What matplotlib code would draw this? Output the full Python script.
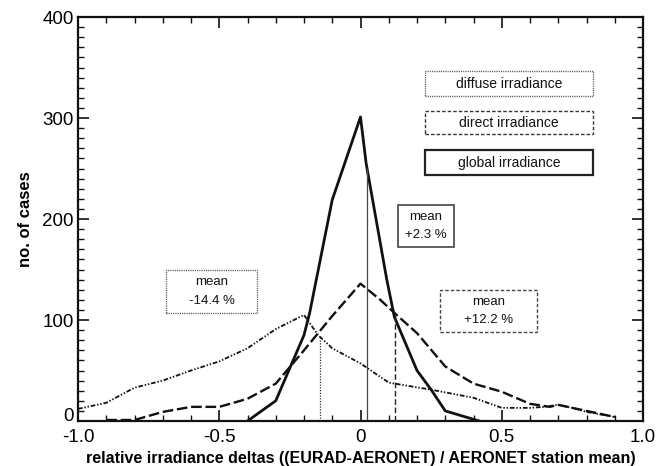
import numpy as np
import matplotlib
matplotlib.use("Agg")
import matplotlib.pyplot as plt
from matplotlib.patches import Rectangle
from matplotlib.ticker import MultipleLocator
from matplotlib.transforms import ScaledTranslation

plt.rcParams['font.family'] = ['Liberation Sans', 'DejaVu Sans']

# ---- data ----
diffuse_x = [-1.0, -0.9, -0.8, -0.7, -0.6, -0.5, -0.4, -0.3, -0.2, -0.15, -0.1, 0.0, 0.1, 0.25, 0.4, 0.5, 0.6, 0.65, 0.7, 0.75, 0.8, 0.9]
diffuse_y = [12, 18, 33, 40, 50, 59, 72, 91, 105, 85, 72, 57, 38, 31, 23, 13, 13, 14, 16, 13, 9, 4]

direct_x = [-0.9, -0.8, -0.7, -0.6, -0.5, -0.4, -0.3, -0.2, -0.1, 0.0, 0.07, 0.12, 0.2, 0.3, 0.4, 0.5, 0.6, 0.67, 0.7, 0.8, 0.9]
direct_y = [1, 1, 9, 14, 14, 22, 37, 70, 104, 136, 120, 107, 87, 54, 37, 29, 17, 14, 16, 10, 4]

global_x = [-0.4, -0.3, -0.2, -0.18, -0.1, 0.0, 0.02, 0.093, 0.12, 0.2, 0.25, 0.3, 0.42]
global_y = [0, 20, 85, 107, 219, 301, 255, 140, 103, 50, 31, 10, 0]

means = {"diffuse": -0.144, "direct": 0.122, "global": 0.023}
mean_labels = {"diffuse": "mean\n-14.4 %", "direct": "mean\n+12.2 %", "global": "mean\n+2.3 %"}
legend_labels = ["diffuse irradiance", "direct irradiance", "global irradiance"]

xticks = [-1.0, -0.5, 0.0, 0.5, 1.0]
xtick_labels = ["-1.0", "-0.5", "0", "0.5", "1.0"]
yticks = [0, 100, 200, 300, 400]

W, H = 671, 466
fig = plt.figure(figsize=(W / 100, H / 100), dpi=100)
L, R, T, B = 78, 643, 17, 421
ax = fig.add_axes([L / W, 1 - B / H, (R - L) / W, (B - T) / H])

diff_style = dict(color='#111111', lw=1.3, dashes=(2.6, 1.0, 0.8, 1.0, 0.8, 1.0))
dir_style = dict(color='#111111', lw=1.7, dashes=(4.5, 1.6))
glob_style = dict(color='#111111', lw=2.0, linestyle='-')

ax.plot(diffuse_x, diffuse_y, **diff_style)
ax.plot(direct_x, direct_y, **dir_style)
ax.plot(global_x, global_y, **glob_style)

# mean vertical lines
ax.vlines(means["diffuse"], 0, np.interp(means["diffuse"], diffuse_x, diffuse_y),
          colors='#333333', lw=0.9, linestyles=(0, (1, 1.2)))
ax.vlines(means["direct"], 0, np.interp(means["direct"], direct_x, direct_y),
          colors='#222222', lw=1.0, linestyles=(0, (4, 2)))
ax.vlines(means["global"], 0, np.interp(means["global"], global_x, global_y),
          colors='#444444', lw=0.9, linestyles='-')

ax.set_xlim(-1.0, 1.0)
ax.set_ylim(0, 400)
ax.set_xticks(xticks)
ax.set_xticklabels(xtick_labels)
ax.set_yticks(yticks)
ax.xaxis.set_minor_locator(MultipleLocator(0.1))
ax.yaxis.set_minor_locator(MultipleLocator(10))
ax.tick_params(which='both', direction='in', top=True, right=True, color='#111111')
ax.tick_params(which='major', length=8, width=1.2, labelsize=13.5)
ax.tick_params(axis='x', which='major', pad=6)
ax.tick_params(axis='y', which='major', pad=3)
ax.tick_params(which='minor', length=4.5, width=1.0)
for sp in ax.spines.values():
    sp.set_linewidth(1.6)
    sp.set_color('#111111')

# lift the "0" y tick label slightly, as in the reference
ylabels = ax.get_yticklabels()
ylabels[0].set_transform(ylabels[0].get_transform() + ScaledTranslation(0, 5 / 72, fig.dpi_scale_trans))

ax.set_xlabel("relative irradiance deltas ((EURAD-AERONET) / AERONET station mean)",
              fontsize=11.5, fontweight='bold', labelpad=3)
ax.set_ylabel("no. of cases", fontsize=12, fontweight='bold', labelpad=7)


def box(px0, py0, px1, py1, ls, lw, ec, text, fs):
    x0 = (px0 - L) / (R - L)
    x1 = (px1 - L) / (R - L)
    y0 = (B - py1) / (B - T)
    y1 = (B - py0) / (B - T)
    ax.add_patch(Rectangle((x0, y0), x1 - x0, y1 - y0, transform=ax.transAxes,
                           fill=False, linestyle=ls, lw=lw, edgecolor=ec))
    ax.text((x0 + x1) / 2, (y0 + y1) / 2, text, transform=ax.transAxes,
            ha='center', va='center', fontsize=fs, linespacing=1.7, color='#111111')


# legend boxes
box(425, 71, 593, 96, (0, (0.8, 0.8)), 1.0, '#555555', legend_labels[0], 10)
box(425, 111, 593, 134, (0, (2.5, 1.5)), 1.0, '#333333', legend_labels[1], 10)
box(425, 150, 593, 175, '-', 1.6, '#222222', legend_labels[2], 10)

# mean boxes
box(166, 270, 257, 313, (0, (0.8, 0.8)), 1.0, '#555555', mean_labels["diffuse"], 9.5)
box(398, 205, 454, 247, '-', 1.2, '#444444', mean_labels["global"], 9.5)
box(440, 290, 537, 332, (0, (2.5, 1.5)), 1.0, '#444444', mean_labels["direct"], 9.5)

fig.savefig("out.png", dpi=100)
